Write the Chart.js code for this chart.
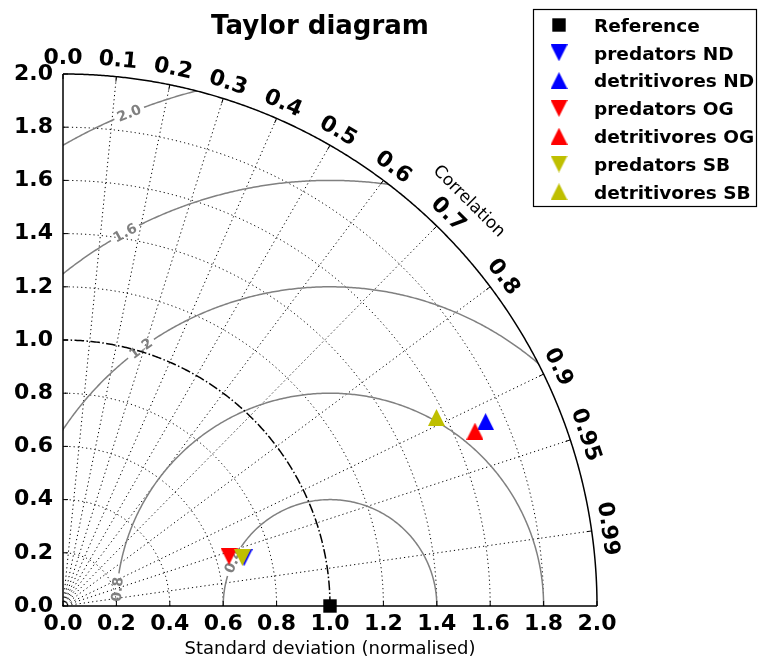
<!DOCTYPE html>
<html>
<head>
<meta charset="utf-8">
<title>Taylor diagram</title>
<script src="https://cdn.jsdelivr.net/npm/chart.js@4.4.0/dist/chart.umd.min.js"></script>
<style>
  html, body { margin: 0; padding: 0; background: #fff; }
</style>
</head>
<body>
<canvas id="myChart" width="758" height="660"></canvas>
<script>
// Series: normalised standard deviation and correlation with the reference
const seriesNames = ['Reference', 'predators ND', 'detritivores ND', 'predators OG', 'detritivores OG', 'predators SB', 'detritivores SB'];
const stdNorm = [1.0, 0.702, 1.728, 0.649, 1.677, 0.696, 1.568];
const corrCoef = [1.0, 0.966, 0.916, 0.958, 0.920, 0.965, 0.892];

// Axes / grid levels
const stdTicks = [0.0, 0.2, 0.4, 0.6, 0.8, 1.0, 1.2, 1.4, 1.6, 1.8, 2.0];
const corrTicks = [0.0, 0.1, 0.2, 0.3, 0.4, 0.5, 0.6, 0.7, 0.8, 0.9, 0.95, 0.99];
const corrLabels = ['0.0', '0.1', '0.2', '0.3', '0.4', '0.5', '0.6', '0.7', '0.8', '0.9', '0.95', '0.99'];
const rmsLevels = [0.4, 0.8, 1.2, 1.6, 2.0];
const rmsLabels = ['0.4', '0.8', '1.2', '1.6', '2.0'];
const refStd = 1.0;

// styles
const FONT = "'DejaVu Sans', sans-serif";
const markerShapes = ['square', 'down', 'up', 'down', 'up', 'down', 'up'];
const markerColors = ['#000000', '#0000ff', '#0000ff', '#ff0000', '#ff0000', '#bfbf00', '#bfbf00'];
const rmsLabelAngles = [155, 175.5, 126.2, 118.7, 112.1]; // degrees around the reference point

function makeMarker(shape, color) {
    const c = document.createElement('canvas');
    const s = shape === 'square' ? 14 : 17;
    c.width = s; c.height = s;
    const g = c.getContext('2d');
    g.fillStyle = color;
    if (shape === 'square') {
        g.fillRect(0.3, 0.3, 13.4, 13.4);
    } else {
        g.beginPath();
        if (shape === 'up') {
            g.moveTo(8.5, 0); g.lineTo(17, 17); g.lineTo(0, 17);
        } else {
            g.moveTo(0, 0); g.lineTo(17, 0); g.lineTo(8.5, 17);
        }
        g.closePath();
        g.fill();
    }
    return c;
}
const markers = markerShapes.map((s, i) => makeMarker(s, markerColors[i]));

// grid, contours, polar labels
const taylorGrid = {
    id: 'taylorGrid',
    beforeDatasetsDraw(chart) {
        const ctx = chart.ctx;
        const xs = chart.scales.x, ys = chart.scales.y;
        const X = v => xs.getPixelForValue(v);
        const Y = v => ys.getPixelForValue(v);
        const rMax = stdTicks[stdTicks.length - 1];
        const unit = X(1) - X(0);

        function arcPath(cx, cy, r, a0, a1, move) {
            const n = Math.max(8, Math.ceil(Math.abs(a1 - a0) * r * 150));
            for (let k = 0; k <= n; k++) {
                const a = a0 + (a1 - a0) * k / n;
                const px = X(cx + r * Math.cos(a)), py = Y(cy + r * Math.sin(a));
                if (k === 0 && move) ctx.moveTo(px, py); else ctx.lineTo(px, py);
            }
        }
        function arc(cx, cy, r, a0, a1) {
            if (a1 <= a0) return;
            ctx.beginPath();
            arcPath(cx, cy, r, a0, a1, true);
            ctx.stroke();
        }

        ctx.save();
        // dotted std arcs
        ctx.strokeStyle = '#000';
        ctx.lineWidth = 1;
        ctx.setLineDash([1.2, 3]);
        stdTicks.forEach(s => {
            if (s > 0 && s < rMax && Math.abs(s - refStd) > 1e-6) arc(0, 0, s, 0, Math.PI / 2);
        });
        // dotted correlation rays
        corrTicks.forEach(c => {
            if (c <= 0) return;
            const t = Math.acos(c);
            ctx.beginPath();
            ctx.moveTo(X(0), Y(0));
            ctx.lineTo(X(rMax * Math.cos(t)), Y(rMax * Math.sin(t)));
            ctx.stroke();
        });
        ctx.setLineDash([]);

        // RMS contours, clipped to the quarter disc
        ctx.save();
        ctx.beginPath();
        ctx.moveTo(X(0), Y(0));
        arcPath(0, 0, rMax, 0, Math.PI / 2, false);
        ctx.closePath();
        ctx.clip();
        ctx.strokeStyle = '#808080';
        ctx.lineWidth = 1.5;
        rmsLevels.forEach((R, i) => {
            const phi = rmsLabelAngles[i] * Math.PI / 180;
            const gap = 16 / (R * unit);
            arc(refStd, 0, R, 0, phi - gap);
            arc(refStd, 0, R, phi + gap, Math.PI);
        });
        ctx.restore();

        // RMS labels
        ctx.fillStyle = '#808080';
        ctx.font = 'bold 14px ' + FONT;
        ctx.textAlign = 'center';
        ctx.textBaseline = 'middle';
        rmsLevels.forEach((R, i) => {
            const phi = rmsLabelAngles[i] * Math.PI / 180;
            const px = X(refStd + R * Math.cos(phi)), py = Y(R * Math.sin(phi));
            ctx.save();
            ctx.translate(px, py);
            ctx.rotate(Math.atan2(Math.cos(phi), Math.sin(phi)));
            ctx.fillText(rmsLabels[i], 0, 1);
            ctx.restore();
        });

        // reference std arc
        ctx.strokeStyle = '#000';
        ctx.lineWidth = 1.5;
        ctx.setLineDash([9.6, 2.4, 1.5, 2.4]);
        arc(0, 0, refStd, 0, Math.PI / 2);
        ctx.setLineDash([]);

        // outer arc and axis lines
        ctx.lineWidth = 1.5;
        arc(0, 0, rMax, 0, Math.PI / 2);
        ctx.beginPath();
        ctx.moveTo(X(0), Y(rMax));
        ctx.lineTo(X(0), Y(0));
        ctx.lineTo(X(rMax), Y(0));
        ctx.stroke();

        // inward ticks
        ctx.lineWidth = 1;
        ctx.beginPath();
        stdTicks.forEach(v => {
            ctx.moveTo(X(v), Y(0)); ctx.lineTo(X(v), Y(0) - 5);
            ctx.moveTo(X(0), Y(v)); ctx.lineTo(X(0) + 5, Y(v));
        });
        corrTicks.forEach(c => {
            const t = Math.acos(c);
            const px = X(rMax * Math.cos(t)), py = Y(rMax * Math.sin(t));
            ctx.moveTo(px, py);
            ctx.lineTo(px - 5 * Math.cos(t), py + 5 * Math.sin(t));
        });
        ctx.stroke();

        // correlation tick labels
        ctx.fillStyle = '#000';
        ctx.font = 'bold 22px ' + FONT;
        corrTicks.forEach((c, i) => {
            const t = Math.acos(c);
            const px = X(rMax * Math.cos(t)) + 17 * Math.cos(t);
            const py = Y(rMax * Math.sin(t)) - 17 * Math.sin(t);
            ctx.save();
            ctx.translate(px, py);
            ctx.rotate(Math.PI / 2 - t);
            ctx.fillText(corrLabels[i], 0, 1);
            ctx.restore();
        });

        // axis label of the correlation axis
        ctx.font = '17px ' + FONT;
        const tc = Math.PI / 4;
        ctx.save();
        ctx.translate(X(rMax * Math.cos(tc)) + 40 * Math.cos(tc), Y(rMax * Math.sin(tc)) - 40 * Math.sin(tc));
        ctx.rotate(Math.PI / 2 - tc);
        ctx.fillText('Correlation', 0, 0);
        ctx.restore();

        ctx.restore();
    },
    afterDraw(chart) {
        const ctx = chart.ctx;
        ctx.save();
        // title
        ctx.fillStyle = '#000';
        ctx.font = 'bold 26px ' + FONT;
        ctx.textAlign = 'center';
        ctx.textBaseline = 'alphabetic';
        ctx.fillText('Taylor diagram', 320, 34);

        // legend
        ctx.strokeStyle = '#000';
        ctx.lineWidth = 1.2;
        ctx.strokeRect(533.5, 9.5, 223, 197);
        ctx.font = 'bold 18.5px ' + FONT;
        ctx.textAlign = 'left';
        seriesNames.forEach((name, i) => {
            const yRow = 25 + i * 27.8;
            const m = markers[i];
            ctx.drawImage(m, 559 - m.width / 2, yRow - m.height / 2);
            ctx.fillText(name, 594, yRow + 6.8);
        });
        ctx.restore();
    }
};

const ctx = document.getElementById('myChart').getContext('2d');

window.myChart = new Chart(ctx, {
    type: 'scatter',
    data: {
        datasets: seriesNames.map((name, i) => ({
            label: name,
            // полярные координаты -> декартовы
            data: [{
                x: stdNorm[i] * corrCoef[i],
                y: stdNorm[i] * Math.sqrt(1 - corrCoef[i] * corrCoef[i])
            }],
            pointStyle: markers[i],
            pointRadius: 9,
            backgroundColor: markerColors[i],
            borderColor: markerColors[i],
            order: -i,
            clip: false
        }))
    },
    options: {
        responsive: false,
        animation: false,
        layout: { padding: { left: 0, top: 74, right: 161, bottom: 0 } },
        plugins: {
            legend: { display: false },
            title: { display: false },
            tooltip: { enabled: false }
        },
        scales: {
            x: {
                type: 'linear',
                position: 'bottom',
                min: 0,
                max: 2,
                afterBuildTicks: s => { s.ticks = stdTicks.map(v => ({ value: v })); },
                afterFit: s => { s.height = 54; },
                grid: { display: false, drawTicks: false },
                border: { display: false },
                ticks: {
                    autoSkip: false,
                    maxRotation: 0,
                    padding: 5,
                    color: '#000',
                    font: { family: FONT, size: 22, weight: 'bold' },
                    callback: v => Number(v).toFixed(1)
                },
                title: {
                    display: true,
                    text: 'Standard deviation (normalised)',
                    color: '#000',
                    font: { family: FONT, size: 18 },
                    padding: { top: 0, bottom: 0 }
                }
            },
            y: {
                type: 'linear',
                position: 'left',
                min: 0,
                max: 2,
                afterBuildTicks: s => { s.ticks = stdTicks.map(v => ({ value: v })); },
                afterFit: s => { s.width = 63; },
                grid: { display: false, drawTicks: false },
                border: { display: false },
                ticks: {
                    autoSkip: false,
                    padding: 10,
                    color: '#000',
                    font: { family: FONT, size: 22, weight: 'bold' },
                    callback: v => Number(v).toFixed(1)
                }
            }
        }
    },
    plugins: [taylorGrid]
});
</script>
</body>
</html>
